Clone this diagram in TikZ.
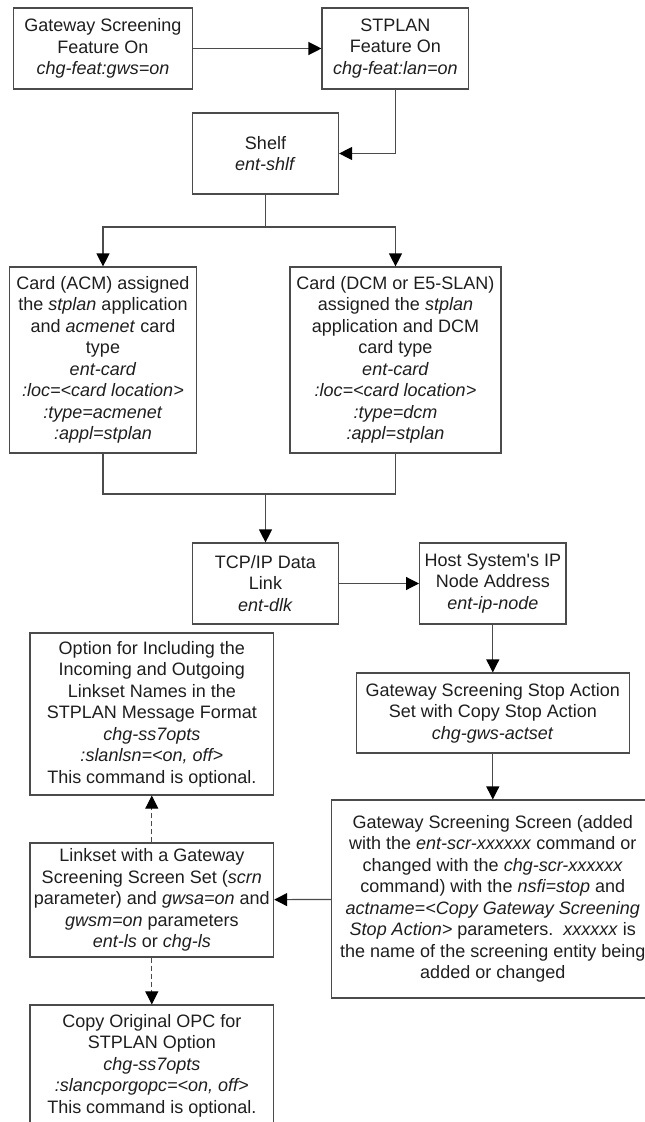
\documentclass[tikz,border=0pt]{standalone}
\usepackage{fontspec}
\setmainfont{Liberation Sans}
\usepackage{xcolor}
\usetikzlibrary{arrows.meta}

\definecolor{linegray}{RGB}{75,75,75}
\definecolor{textgray}{RGB}{30,30,30}

\tikzset{
  stepbox/.style={draw=linegray, line width=1.2pt, align=center, inner sep=0pt,
    text=textgray, font=\fontsize{18}{21.5}\selectfont},
  flow/.style={draw=linegray, line width=1.2pt, -{Triangle[length=13pt,width=13pt,color=black]}},
  optflow/.style={flow, line width=1pt, dash pattern=on 5pt off 3pt}
}

\begin{document}
\begin{tikzpicture}[x=1pt, y=-1pt]
    \useasboundingbox (0,0) rectangle (645,1122);
    \node[stepbox, minimum width=179pt, minimum height=81pt] (gws) at (103,48.5)
        {Gateway Screening\\Feature On\\\textit{chg-feat:gws=on}};
    \node[stepbox, minimum width=146.5pt, minimum height=81pt] (stplan) at (395.3,48.5)
        {STPLAN\\Feature On\\\textit{chg-feat:lan=on}};
    \node[stepbox, minimum width=146pt, minimum height=81pt] (shelf) at (265.5,153.5)
        {Shelf\\\textit{ent-shlf}};
    \node[stepbox, minimum width=187pt, minimum height=186pt] (acm) at (103,360)
        {Card (ACM) assigned\\the \textit{stplan} application\\and \textit{acmenet} card\\type\\\textit{ent-card}\\\textit{:loc=<card location>}\\\textit{:type=acmenet}\\\textit{:appl=stplan}};
    \node[stepbox, minimum width=211pt, minimum height=186pt] (dcm) at (395.5,360)
        {Card (DCM or E5-SLAN)\\assigned the \textit{stplan}\\application and DCM\\card type\\\textit{ent-card}\\\textit{:loc=<card location>}\\\textit{:type=dcm}\\\textit{:appl=stplan}};
    \node[stepbox, minimum width=146pt, minimum height=81pt] (tcp) at (265.5,583.5)
        {TCP/IP Data\\Link\\\textit{ent-dlk}};
    \node[stepbox, minimum width=146.4pt, minimum height=81pt] (host) at (492.8,583.5)
        {Host System\textquotesingle s IP\\Node Address\\\textit{ent-ip-node}};
    \node[stepbox, minimum width=243.6pt, minimum height=162pt] (option) at (151.8,714)
        {Option for Including the\\Incoming and Outgoing\\Linkset Names in the\\STPLAN Message Format\\\textit{chg-ss7opts}\\\textit{:slanlsn=<on, off>}\\This command is optional.};
    \node[stepbox, minimum width=273.4pt, minimum height=80pt] (stop) at (492.8,713)
        {Gateway Screening Stop Action\\Set with Copy Stop Action\\\textit{chg-gws-actset}};
    \node[stepbox, minimum width=322pt, minimum height=198pt] (screen) at (492.8,899)
        {Gateway Screening Screen (added\\with the \textit{ent-scr-xxxxxx} command or\\changed with the \textit{chg-scr-xxxxxx}\\command) with the \textit{nsfi=stop} and\\\textit{actname=<Copy Gateway Screening}\\\textit{Stop Action>} parameters.\ \ \textit{xxxxxx} is\\the name of the screening entity being\\added or changed};
    \node[stepbox, minimum width=243.6pt, minimum height=114pt] (linkset) at (151.8,900)
        {Linkset with a Gateway\\Screening Screen Set (\textit{scrn}\\parameter) and \textit{gwsa=on} and\\\textit{gwsm=on} parameters\\\textit{ent-ls} or \textit{chg-ls}};
    \node[stepbox, minimum width=243.6pt, minimum height=121pt] (copy) at (151.8,1065.5)
        {Copy Original OPC for\\STPLAN Option\\\textit{chg-ss7opts}\\\textit{:slancporgopc=<on, off>}\\This command is optional.};

    \coordinate (split) at (265.5,227);
    \coordinate (join) at (265.5,494);

    \draw[flow] (gws) -- (stplan);
    \draw[flow] (stplan.south) |- (shelf.east);
    \draw[draw=linegray, line width=1.2pt] (shelf.south) -- (split);
    \draw[flow] (split) -| (acm.north);
    \draw[flow] (split) -| (dcm.north);
    \draw[draw=linegray, line width=1.2pt] (acm.south) |- (join) -| (dcm.south);
    \draw[flow] (join) -- (tcp.north);
    \draw[flow] (tcp) -- (host);
    \draw[flow] (host) -- (stop);
    \draw[flow] (stop) -- (screen);
    \draw[flow] (screen) -- (linkset);
    \draw[optflow] (linkset) -- (option);
    \draw[optflow] (linkset) -- (copy);
\end{tikzpicture}
\end{document}
